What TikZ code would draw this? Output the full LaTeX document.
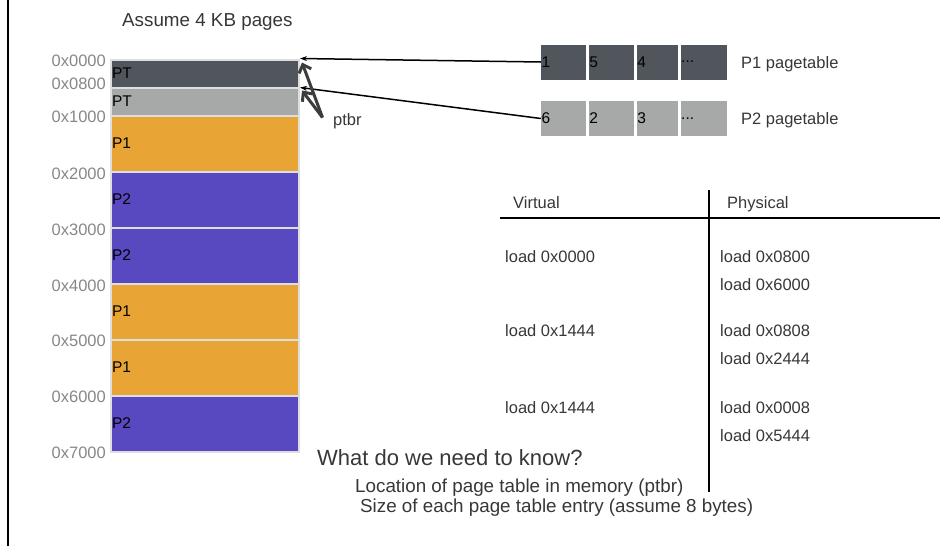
\documentclass[tikz,border=0pt]{standalone}
\usepackage{fontspec}
\setmainfont{Liberation Sans}
\usetikzlibrary{arrows.meta, positioning}
\definecolor{ptdark}{RGB}{81, 86, 93}
\definecolor{ptlight}{RGB}{166, 169, 168}
\definecolor{p1color}{RGB}{232, 164, 52}
\definecolor{p2color}{RGB}{89, 73, 193}
\definecolor{framecolor}{RGB}{222, 222, 222}
\definecolor{textcolor}{RGB}{55, 55, 55}
\definecolor{addrcolor}{RGB}{135, 135, 135}
\definecolor{ptbrcolor}{RGB}{60, 60, 60}

\begin{document}
\begin{tikzpicture}[
    x=1pt, y=-1pt,
    block/.style={draw=framecolor, line width=2pt, text width=186pt, inner sep=1pt, align=left, font=\fontsize{15.5}{17}\selectfont, text=black},
    page/.style={block, minimum height=56pt},
    halfpage/.style={block, minimum height=28pt},
    addr/.style={anchor=base east, inner sep=0pt, text=addrcolor, font=\fontsize{16.5}{19}\selectfont},
    cell/.style={minimum height=35pt, inner sep=0.5pt, align=left, font=\fontsize{15.5}{17}\selectfont, text=black},
    label/.style={anchor=base west, inner sep=0pt, text=textcolor, font=\fontsize{16.5}{19}\selectfont},
    biglabel/.style={label, font=\fontsize{18.8}{22}\selectfont}
]
    \useasboundingbox (0, 0) rectangle (952, 546);
    \draw[line width=2pt] (8, 0) -- (8, 546);

    % Physical memory
    \node[biglabel] (title) at (122, 27) {Assume 4 KB pages};
    \node[halfpage, fill=ptdark] (pt1) at (205, 73.5) {PT};
    \node[halfpage, fill=ptlight] (pt2) at (205, 101.5) {PT};
    \node[page, fill=p1color] (m1) at (205, 143.5) {P1};
    \node[page, fill=p2color] (m2) at (205, 199.5) {P2};
    \node[page, fill=p2color] (m3) at (205, 255.5) {P2};
    \node[page, fill=p1color] (m4) at (205, 311.5) {P1};
    \node[page, fill=p1color] (m5) at (205, 367.5) {P1};
    \node[page, fill=p2color] (m6) at (205, 423.5) {P2};

    % Addresses
    \node[addr] (a0) at (106, 66) {0x0000};
    \node[addr] (a1) at (106, 89) {0x0800};
    \node[addr] (a2) at (106, 122) {0x1000};
    \node[addr] (a3) at (106, 179) {0x2000};
    \node[addr] (a4) at (106, 235) {0x3000};
    \node[addr] (a5) at (106, 291) {0x4000};
    \node[addr] (a6) at (106, 346) {0x5000};
    \node[addr] (a7) at (106, 402) {0x6000};
    \node[addr] (a8) at (106, 458) {0x7000};

    % Page tables
    \node[cell, fill=ptdark, text width=44pt] (p1a) at (563.5, 62) {1};
    \node[cell, fill=ptdark, text width=44pt, right=2.5pt of p1a] (p1b) {5};
    \node[cell, fill=ptdark, text width=40pt, right=2.5pt of p1b] (p1c) {4};
    \node[cell, fill=ptdark, text width=45pt, right=2.5pt of p1c] (p1d) {...};
    \node[label] (p1name) at (741, 68) {P1 pagetable};

    \node[cell, fill=ptlight, text width=44pt] (p2a) at (563.5, 118.5) {6};
    \node[cell, fill=ptlight, text width=44pt, right=2.5pt of p2a] (p2b) {2};
    \node[cell, fill=ptlight, text width=40pt, right=2.5pt of p2b] (p2c) {3};
    \node[cell, fill=ptlight, text width=45pt, right=2.5pt of p2c] (p2d) {...};
    \node[label] (p2name) at (741, 124) {P2 pagetable};

    % ptbr
    \node[label] (ptbr) at (333, 125) {ptbr};
    \coordinate (ptbrsrc) at (322.5, 117.5);

    % Connections
    \draw[-{Stealth[length=7pt, width=5pt]}, line width=1.5pt] (p1a.west) -- (pt1.north east);
    \draw[-{Stealth[length=7pt, width=5pt]}, line width=1.5pt] (p2a.west) -- ([yshift=-1pt]pt2.north east);
    \draw[-{Straight Barb[length=7pt, width=13pt]}, line width=3pt, ptbrcolor] (ptbrsrc) -- ([shift={(2pt,-4pt)}]pt1.north east);
    \draw[-{Straight Barb[length=7pt, width=13pt]}, line width=3pt, ptbrcolor] (ptbrsrc) -- ([shift={(2pt,-4pt)}]pt2.north east);

    % Translation table
    \draw[line width=2pt] (500, 218) -- (940, 218);
    \draw[line width=2pt] (709, 190) -- (709, 492);
    \node[label] (virt) at (513, 208) {Virtual};
    \node[label] (phys) at (727, 208) {Physical};

    \node[label] (v1) at (505, 262) {load 0x0000};
    \node[label] (r1a) at (720, 262) {load 0x0800};
    \node[label] (r1b) at (720, 290) {load 0x6000};

    \node[label] (v2) at (505, 336) {load 0x1444};
    \node[label] (r2a) at (720, 336) {load 0x0808};
    \node[label] (r2b) at (720, 364) {load 0x2444};

    \node[label] (v3) at (505, 413) {load 0x1444};
    \node[label] (r3a) at (720, 413) {load 0x0008};
    \node[label] (r3b) at (720, 441) {load 0x5444};

    % Questions
    \node[label, font=\fontsize{22}{26}\selectfont] (q) at (317, 465) {What do we need to know?};
    \node[biglabel] (q1) at (355, 492) {Location of page table in memory (ptbr)};
    \node[biglabel] (q2) at (360, 512) {Size of each page table entry (assume 8 bytes)};

\end{tikzpicture}
\end{document}
